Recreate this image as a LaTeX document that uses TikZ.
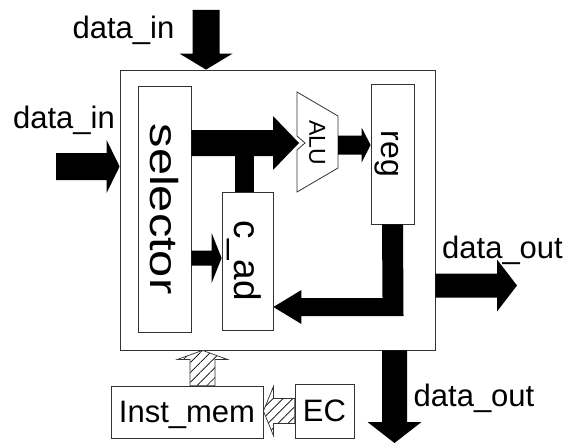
\documentclass[tikz,border=0pt]{standalone}
\usepackage{fontspec}
\setmainfont{Liberation Sans}
\usetikzlibrary{calc,patterns.meta}

% line box as tall as a full text line, keeps labels centred like in a slide
\newcommand\ppstrut{\rule[-0.21em]{0pt}{1.12em}}
% block arrow: [style]{from}{to}{half shaft}{half head}{head length}
\newcommand\fatarrow[6][solidarr]{%
  \path[#1] ($(#2)!#4!90:(#3)$) -- ($(#3)!#6!(#2)!#4!-90:(#2)$)
    -- ($(#3)!#6!(#2)!#5!-90:(#2)$) -- (#3)
    -- ($(#3)!#6!(#2)!#5!90:(#2)$) -- ($(#3)!#6!(#2)!#4!90:(#2)$)
    -- ($(#2)!#4!-90:(#3)$) -- cycle;}

\begin{document}
\begin{tikzpicture}[x=1pt,y=-1pt,
  box/.style={draw=black!80, line width=0.8pt, fill=white, inner sep=0pt},
  tag/.style={font=\fontsize{31}{37}\selectfont, inner sep=0pt, anchor=base},
  solidarr/.style={fill=black},
  hatcharr/.style={draw=black!80, line width=0.7pt, preaction={fill=white},
    pattern={Lines[angle=45,distance=7pt,line width=0.7pt]}}]

\path[use as bounding box, fill=white] (0,0) rectangle (569,444);

% processing element and its blocks
\node[box, minimum width=315pt, minimum height=280pt] (pe) at (277.5,210) {};
\node[box, minimum width=53pt, minimum height=246pt, font=\fontsize{39}{47}\selectfont]
  (sel) at (164.5,209) {\rotatebox{-90}{\scalebox{1.25}[1]{\ppstrut selector}}};
\node[box, minimum width=51pt, minimum height=138pt, font=\fontsize{37}{44}\selectfont]
  (cad) at (247.5,261) {\rotatebox{-90}{\ppstrut c\_ad}};
\node[box, minimum width=43pt, minimum height=140pt, font=\fontsize{32}{38}\selectfont]
  (reg) at (392.5,154) {\rotatebox{-90}{\ppstrut reg}};

% ALU outline
\draw[draw=black!80, line width=0.8pt, fill=white] (297,92) -- (338,116) -- (338,168)
  -- (297,192) -- (297,150) -- (305,143) -- (297,136) -- cycle;
\node[inner sep=0pt, font=\fontsize{23}{28}\selectfont] (alu) at (317.5,143)
  {\rotatebox{-90}{\ppstrut ALU}};

\node[box, minimum width=152pt, minimum height=52pt, font=\fontsize{31}{37}\selectfont]
  (inst) at (187,412) {\ppstrut Inst\_mem};
\node[box, minimum width=59pt, minimum height=54pt, font=\fontsize{31}{37}\selectfont]
  (ec) at (324.5,411) {\ppstrut EC};

% arrow ends
\coordinate (in-top) at (206,10);
\coordinate (in-top-end) at (in-top |- pe.north);
\coordinate (in-left) at (56,166.5);
\coordinate (in-left-end) at (pe.west |- in-left);
\coordinate (alu-in) at (299,143);
\coordinate (sel-alu) at (sel.east |- alu-in);
\coordinate (alu-out) at (338,145);
\coordinate (reg-in) at (reg.west |- alu-out);
\coordinate (cad-in) at ($(cad.west)+(0,-3)$);
\coordinate (sel-cad) at (sel.east |- cad-in);
\coordinate (out-right) at (517,285.5);
\coordinate (pe-right) at (pe.east |- out-right);
\coordinate (out-bot) at (394.5,443);
\coordinate (pe-bot) at (pe.south -| out-bot);
\coordinate (inst-top) at ($(inst.north)+(15.5,0)$);
\coordinate (pe-in) at (pe.south -| inst-top);
\coordinate (inst-in) at (inst.east |- ec.west);
\coordinate (bend) at (393,307);
\coordinate (cad-back) at (cad.east |- bend);

% data paths
\fatarrow{in-top}{in-top-end}{13.5pt}{26.5pt}{16pt}
\fatarrow{in-left}{in-left-end}{13.5pt}{26.5pt}{13pt}
\fatarrow{sel-alu}{alu-in}{13pt}{27pt}{26pt}
\fill[solidarr] ($(cad.north)+(-13,0)$) rectangle ($(cad.north)+(6,-40)$);
\fatarrow{alu-out}{reg-in}{9.5pt}{17.5pt}{9pt}
\fatarrow{sel-cad}{cad-in}{7.5pt}{25pt}{10pt}
\fill[solidarr] ($(reg.south)+(-10.5,0)$) -- ($(bend)+(-10.5,-9)$)
  -- ($(cad-back)+(28,-9)$) -- ($(cad-back)+(28,-17)$) -- (cad-back)
  -- ($(cad-back)+(28,17)$) -- ($(cad-back)+(28,9)$)
  -- ($(bend)+(10.5,9)$) -- ($(reg.south)+(10.5,0)$) -- cycle;
\fatarrow{pe-right}{out-right}{12pt}{26pt}{20pt}
\fatarrow{pe-bot}{out-bot}{12.5pt}{27pt}{21pt}

% control paths
\fatarrow[hatcharr]{inst-top}{pe-in}{12.5pt}{25pt}{9pt}
\fatarrow[hatcharr]{ec.west}{inst-in}{12.5pt}{24.5pt}{10pt}

% port labels
\node[tag] (lbl-in-top) at (123.5,39) {data\_in};
\node[tag] (lbl-in-left) at (64,128) {data\_in};
\node[tag] (lbl-out-right) at (502.5,258) {data\_out};
\node[tag] (lbl-out-bot) at (474,406) {data\_out};
\end{tikzpicture}
\end{document}
